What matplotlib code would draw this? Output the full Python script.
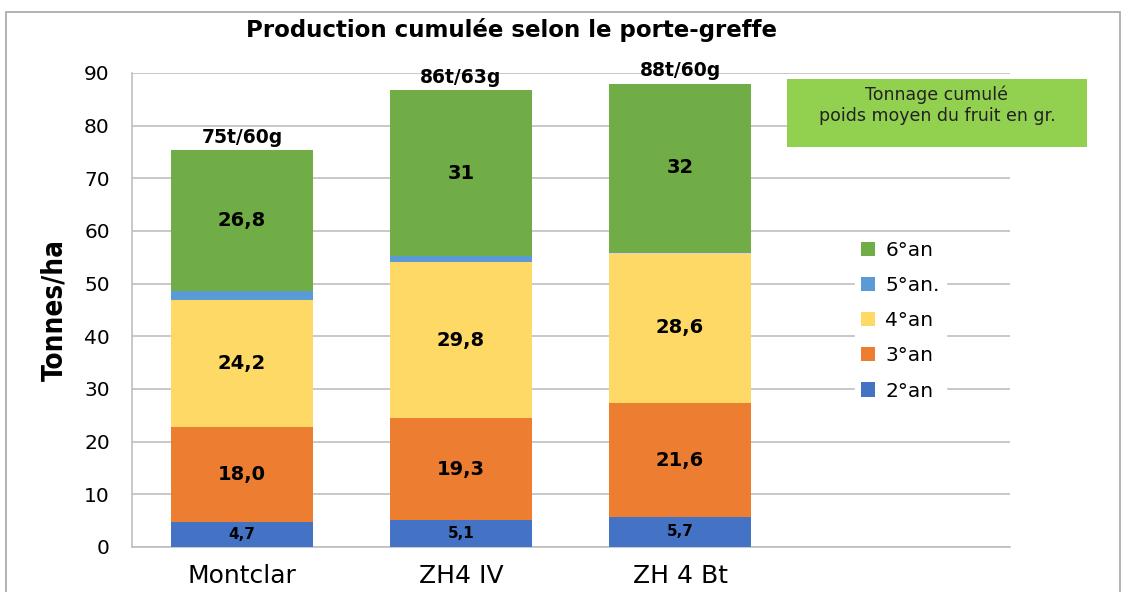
import matplotlib
matplotlib.use("Agg")
import matplotlib.pyplot as plt
from matplotlib.patches import Rectangle
import numpy as np

categories = ["Montclar", "ZH4 IV", "ZH 4 Bt"]
series_names = ["2°an", "3°an", "4°an", "5°an.", "6°an"]
an2 = [4.7, 5.1, 5.7]
an3 = [18.0, 19.3, 21.6]
an4 = [24.2, 29.8, 28.6]
an5 = [1.7, 1.1, 0.1]
an6 = [26.8, 31.4, 32.0]
labels2 = ["4,7", "5,1", "5,7"]
labels3 = ["18,0", "19,3", "21,6"]
labels4 = ["24,2", "29,8", "28,6"]
labels6 = ["26,8", "31", "32"]
top_labels = ["75t/60g", "86t/63g", "88t/60g"]
colors = ["#4472C4", "#ED7D31", "#FFD966", "#5B9BD5", "#70AD47"]

fig = plt.figure(figsize=(11.33, 5.92), dpi=100)
L, R = 132, 1010
ax = fig.add_axes([L/1133, 1-547/592, (R-L)/1133, (547-73)/592])

x = np.arange(len(categories))
w = 0.65
series = [an2, an3, an4, an5, an6]
seg_labels = [labels2, labels3, labels4, None, labels6]
bottom = np.zeros(len(categories))
bars = []
for vals, name, col, labs in zip(series, series_names, colors, seg_labels):
    b = ax.bar(x, vals, w, bottom=bottom, color=col, label=name, zorder=3)
    bars.append(b)
    if labs is not None:
        fs = 11 if name == "2°an" else 14
        for xi, v, bt, lab in zip(x, vals, bottom, labs):
            ax.text(xi, bt + v/2, lab, ha="center", va="center", fontsize=fs,
                    fontweight="bold", color="black", zorder=4)
    bottom = bottom + np.array(vals)

for xi, tot, lab in zip(x, bottom, top_labels):
    ax.text(xi, tot + 0.6, lab, ha="center", va="bottom", fontsize=13.5,
            fontweight="bold", color="black", zorder=4)

ax.set_ylim(0, 90)
ax.set_xlim(-(242-L)/219, (R-242)/219)
ax.set_yticks(range(0, 91, 10))
ax.set_xticks(x)
ax.set_xticklabels(categories, fontsize=18)
ax.tick_params(axis="y", labelsize=14.5, length=0, pad=16)
ax.tick_params(axis="x", length=0, pad=12)
ax.grid(axis="y", color="#BFBFBF", linewidth=1.2, zorder=0)
for s in ["top", "right"]:
    ax.spines[s].set_visible(False)
for s in ["bottom", "left"]:
    ax.spines[s].set_color("#BFBFBF")
    ax.spines[s].set_linewidth(1.2)
ax.set_ylabel("Tonnes/ha", fontsize=20, fontweight="bold", fontstretch="condensed",
              labelpad=11)

handles = [bars[i] for i in [4, 3, 2, 1, 0]]
leg = ax.legend(handles, [series_names[i] for i in [4, 3, 2, 1, 0]],
                loc="upper left", bbox_to_anchor=((845-L)/(R-L), 1-(225-73)/474),
                frameon=True, fontsize=14.5, handlelength=0.7, handleheight=0.7,
                labelspacing=0.8, borderpad=0.3, handletextpad=0.5)
leg.get_frame().set_facecolor("white")
leg.get_frame().set_edgecolor("white")
leg.get_frame().set_alpha(1)
leg.set_zorder(5)

# green note box
fig.patches.append(Rectangle((787/1133, 1-147/592), 300/1133, 68/592,
                             transform=fig.transFigure, facecolor="#92D050",
                             edgecolor="none", zorder=6))
fig.text(937/1133, 1-105/592, "Tonnage cumulé\npoids moyen du fruit en gr.",
         ha="center", va="center", fontsize=12.5, color="#222222", zorder=7,
         linespacing=1.2)

# outer frame
fig.patches.append(Rectangle((6/1133, -0.01), 1114/1133, 1-12/592 + 0.01,
                             transform=fig.transFigure, facecolor="none",
                             edgecolor="#A6A6A6", linewidth=1.2, zorder=1))

fig.text(512/1133, 1-30/592, "Production cumulée selon le porte-greffe",
         ha="center", va="center", fontsize=16.5, fontweight="bold")

fig.savefig("out.png", dpi=100)
